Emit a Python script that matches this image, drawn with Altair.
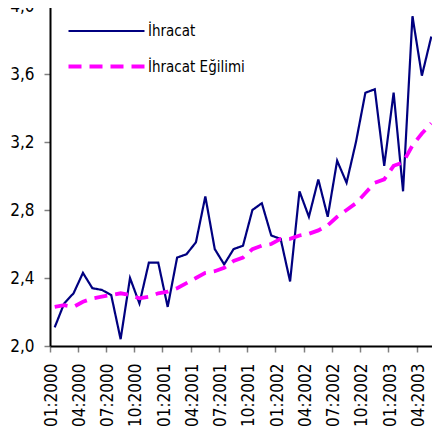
import altair as alt
import pandas as pd

months = [f"{m:02d}:{y}" for y in range(2000, 2004) for m in range(1, 13)][:41]
tick_labels = months[::3]

ihracat = [2.11, 2.25, 2.31, 2.43, 2.34, 2.33, 2.30, 2.04, 2.40, 2.25,
           2.49, 2.49, 2.23, 2.52, 2.54, 2.61, 2.88, 2.57, 2.48, 2.57,
           2.59, 2.80, 2.84, 2.65, 2.63, 2.38, 2.91, 2.76, 2.98, 2.76,
           3.09, 2.96, 3.20, 3.49, 3.51, 3.06, 3.49, 2.91, 3.94, 3.59,
           3.82]
egilim = [2.23, 2.24, 2.23, 2.26, 2.28, 2.29, 2.30, 2.31, 2.30, 2.28,
          2.29, 2.31, 2.32, 2.34, 2.37, 2.40, 2.43, 2.44, 2.46, 2.50,
          2.52, 2.57, 2.59, 2.60, 2.63, 2.63, 2.65, 2.66, 2.68, 2.71,
          2.76, 2.80, 2.84, 2.90, 2.96, 2.98, 3.06, 3.08, 3.18, 3.25,
          3.31]

series = ["İhracat", "İhracat Eğilimi"]
colors = ["#000080", "#FF00FF"]
y_ticks = [2.0, 2.4, 2.8, 3.2, 3.6, 4.0]

n = len(months)
df = pd.DataFrame({
    "ay": months * 2,
    "deger": ihracat + egilim,
    "seri": [series[0]] * n + [series[1]] * n,
    "sira": list(range(n)) * 2,
})

FONT = "DejaVu Sans Condensed, DejaVu Sans"

leg = alt.Legend(
    title=None, orient="none", legendX=45, legendY=14,
    symbolType="M-4,0H4", symbolSize=361,
    labelFont=FONT, labelFontSize=15, labelColor="#000000",
    labelOffset=30, rowPadding=16,
)

chart = alt.Chart(df).mark_line().encode(
    x=alt.X("ay:O", sort=months, title=None,
            scale=alt.Scale(type="band", paddingInner=0, paddingOuter=0),
            axis=alt.Axis(values=tick_labels, bandPosition=0, labelAngle=270,
                          labelFont=FONT, labelFontSize=17, labelColor="#000000",
                          labelPadding=11, labelOffset=-3,
                          tickSize=6, tickColor="#808080", tickWidth=1.5,
                          domainColor="#000000", domainWidth=2, grid=False)),
    y=alt.Y("deger:Q", title=None,
            scale=alt.Scale(domain=[2.0, 4.0], nice=False, zero=False),
            axis=alt.Axis(values=y_ticks,
                          labelExpr="replace(format(datum.value, '.1f'), '.', ',')",
                          labelFont=FONT, labelFontSize=17, labelColor="#000000",
                          labelPadding=10, tickSize=6, tickColor="#808080", tickWidth=1.5,
                          domainColor="#000000", domainWidth=2,
                          grid=True, gridColor="#808080", gridWidth=2,
                          gridOpacity={"condition": {"test": "datum.value == 4", "value": 1}, "value": 0})),
    color=alt.Color("seri:N", scale=alt.Scale(domain=series, range=colors), legend=leg),
    strokeDash=alt.StrokeDash("seri:N", scale=alt.Scale(domain=series, range=[[1, 0], [13, 8]]), legend=leg),
    strokeWidth=alt.StrokeWidth("seri:N", scale=alt.Scale(domain=series, range=[2.2, 3.8]), legend=leg),
    order=alt.Order("sira:Q"),
).properties(
    width=386, height=340,
    autosize=alt.AutoSizeParams(type="none"),
    padding={"left": 42, "top": -2, "right": -4, "bottom": 85},
).configure_view(stroke=None)

chart.save("out.html", embed_options={"renderer": "svg", "actions": False})
